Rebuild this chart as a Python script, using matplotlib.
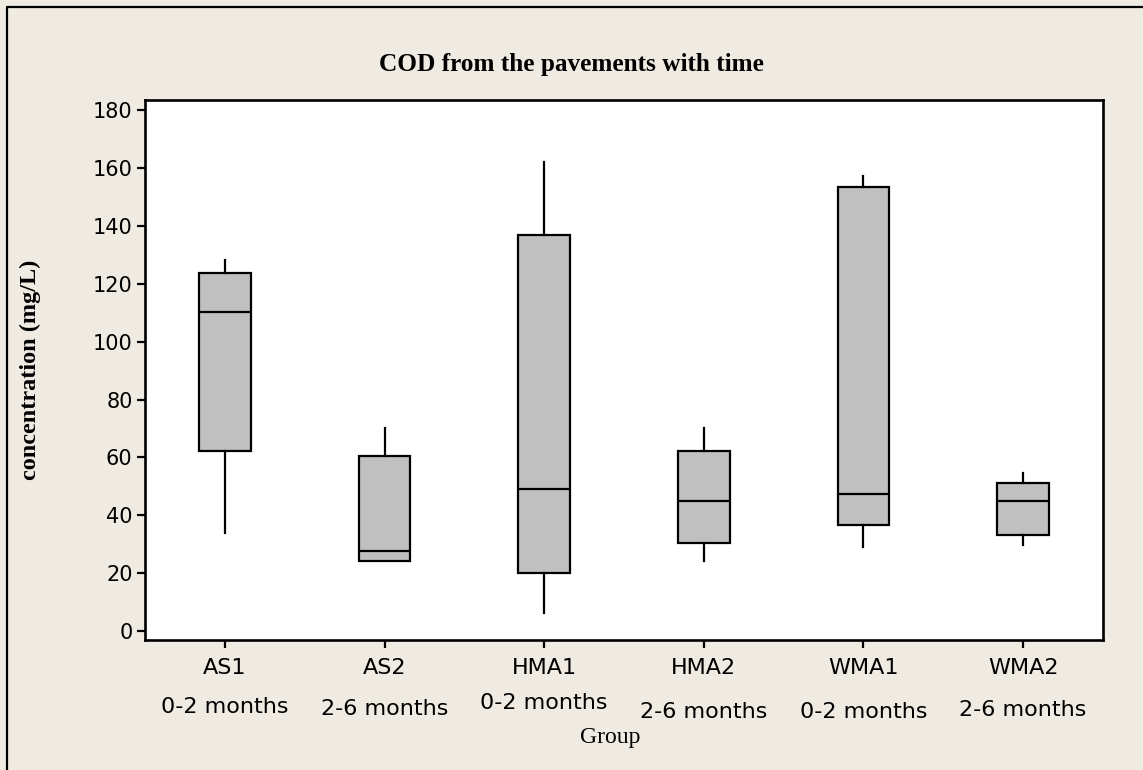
import matplotlib
matplotlib.use("Agg")
import matplotlib.pyplot as plt
from matplotlib.lines import Line2D
import matplotlib.transforms as mtransforms

# ---- data ----
groups = ["AS1", "AS2", "HMA1", "HMA2", "WMA1", "WMA2"]
periods = ["0-2 months", "2-6 months", "0-2 months", "2-6 months", "0-2 months", "2-6 months"]
whisker_low = [33.9, 24.2, 6.2, 24.2, 29.0, 29.7]
q1 = [62.2, 24.2, 20.0, 30.4, 36.6, 33.2]
median = [110.2, 27.6, 49.1, 45.0, 47.3, 44.9]
q3 = [123.7, 60.5, 136.8, 62.2, 153.4, 51.1]
whisker_high = [128.2, 70.0, 162.1, 70.0, 157.2, 54.6]
yticks = [0, 20, 40, 60, 80, 100, 120, 140, 160, 180]

title = "COD from the pavements with time"
ylabel = "concentration (mg/L)"
xlabel = "Group"

# ---- figure ----
W, H = 1143, 770
bg = "#EFEBE2"
fig = plt.figure(figsize=(W / 100, H / 100), dpi=100, facecolor=bg)
ax = fig.add_axes([145 / W, 1 - 640 / H, (1103 - 145) / W, (640 - 100) / H])
ax.set_facecolor("white")

stats = []
for i in range(len(groups)):
    stats.append(dict(med=median[i], q1=q1[i], q3=q3[i],
                      whislo=whisker_low[i], whishi=whisker_high[i],
                      fliers=[], label=groups[i]))

positions = list(range(1, len(groups) + 1))
ax.bxp(stats, positions=positions, widths=0.325, patch_artist=True,
       showcaps=False, showfliers=False,
       boxprops=dict(facecolor="#C0C0C0", edgecolor="black", linewidth=1.6),
       medianprops=dict(color="black", linewidth=1.6),
       whiskerprops=dict(color="black", linewidth=1.6))

ax.set_xlim(0.5, 6.5)
ax.set_ylim(-3.1, 183.5)
ax.set_yticks(yticks)
ax.set_yticklabels([str(v) for v in yticks], fontsize=15, family="DejaVu Sans")
ax.set_xticks(positions)
ax.set_xticklabels(groups, fontsize=16, family="DejaVu Sans")
ax.tick_params(axis="both", direction="out", length=6, width=1.6, colors="black")
ax.tick_params(axis="x", pad=7)
ax.tick_params(axis="y", pad=3)
for s in ax.spines.values():
    s.set_linewidth(1.9)
    s.set_color("black")

# second line of x labels (period)
period_y_px = [707, 709, 703, 712, 712, 710]
trans = mtransforms.blended_transform_factory(ax.transData, fig.transFigure)
for p, lab, ypx in zip(positions, periods, period_y_px):
    ax.text(p, 1 - ypx / H, lab, transform=trans, ha="center", va="center",
            fontsize=16, family="DejaVu Sans", clip_on=False)

fig.text(571 / W, 1 - 65 / H, title, ha="center", va="center",
         fontsize=18.2, fontweight="bold", family="Liberation Serif")
fig.text(30 / W, 1 - 370 / H, ylabel, ha="center", va="center", rotation=90,
         fontsize=17.5, fontweight="bold", family="Liberation Serif")
fig.text(610 / W, 1 - 737 / H, xlabel, ha="center", va="center",
         fontsize=17, family="Liberation Serif")

# outer frame (top and left edges visible)
fig.add_artist(Line2D([7 / W, 7 / W, 1.0], [0.0, 1 - 7 / H, 1 - 7 / H],
                      transform=fig.transFigure, color="black", linewidth=1.6))

fig.savefig("out.png", dpi=100, facecolor=bg)
